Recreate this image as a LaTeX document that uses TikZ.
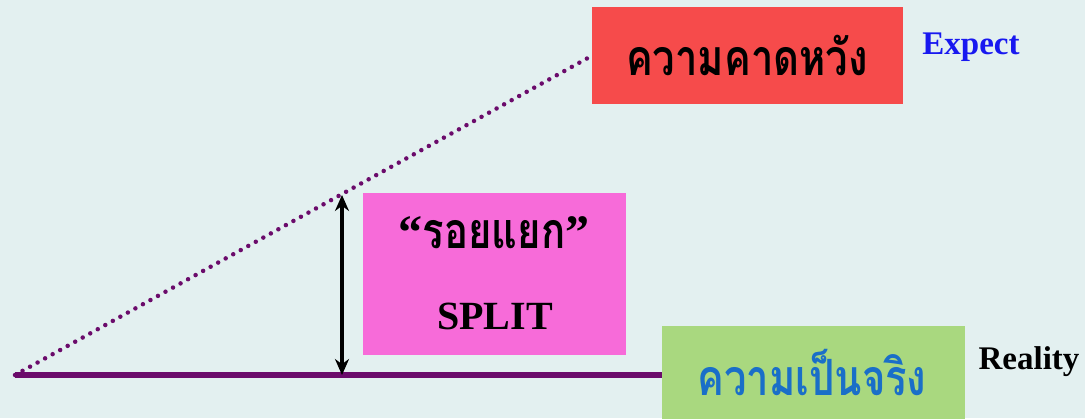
\documentclass[tikz,border=0pt]{standalone}
\usepackage{fontspec}
\setmainfont{Liberation Serif}
\newfontfamily\thaifont[Script=Thai,FakeStretch=0.8]{Loma}
\usetikzlibrary{arrows.meta}
\definecolor{bgcol}{HTML}{E3F0F0}
\definecolor{redbox}{HTML}{F64B4B}
\definecolor{pinkbox}{HTML}{F76BD9}
\definecolor{greenbox}{HTML}{A9D87F}
\definecolor{linecol}{HTML}{6B0B6B}
\definecolor{realtext}{HTML}{1A6FC8}
\definecolor{expblue}{HTML}{1818F0}
\tikzset{
  panel/.style={rectangle, inner sep=0pt, anchor=north west},
  thaititle/.style={inner sep=0pt, font=\thaifont\bfseries\fontsize{50}{54}\selectfont},
  engtag/.style={font=\bfseries\fontsize{33}{36}\selectfont},
}
\begin{document}
\begin{tikzpicture}[x=1pt,y=-1pt]
  \useasboundingbox (0,0) rectangle (1085,418);
  \clip (0,0) rectangle (1085,418);
  \fill[bgcol] (0,0) rectangle (1085,418);

  % coloured panels
  \node[panel, fill=redbox, minimum width=311pt, minimum height=97pt] (expectbox) at (592,7) {};
  \node[panel, fill=pinkbox, minimum width=263pt, minimum height=162pt] (splitbox) at (363,193) {};
  \node[panel, fill=greenbox, minimum width=303pt, minimum height=110pt] (realbox) at (662,326) {};

  % texts in the panels
  \node[thaititle, text=black] (expecttxt) at (747,55) {ความคาดหวัง};
  \node[thaititle, text=black] (splittxt) at (494,233)
    {{\rmfamily\bfseries\fontsize{48}{50}\selectfont “}รอยแยก{\rmfamily\bfseries\fontsize{48}{50}\selectfont ”}};
  \node[font=\bfseries\fontsize{40}{44}\selectfont] (splitword) at (495,316) {SPLIT};
  \node[thaititle, text=realtext] (realtxt) at (812,373) {ความเป็นจริง};

  % side labels
  \node[engtag, text=expblue] (expectlbl) at (971,47) {Expect};
  \node[engtag, text=black] (reallbl) at (1029,362) {Reality};

  % baseline and rising expectation line
  \coordinate (origin) at (15,375);
  \coordinate (lineend) at (662,375);
  \draw[linecol, line width=6pt] (origin) -- (lineend);
  \draw[linecol, line width=4.5pt, line cap=round, dash pattern=on 0pt off 8.6pt] (origin) -- (expectbox.west);

  % gap arrow
  \coordinate (gaptop) at (342,195);
  \coordinate (gapbot) at (342,375);
  \draw[black, line width=3.6pt, {Stealth[length=16pt,width=14pt]}-{Stealth[length=16pt,width=14pt]}] (gaptop) -- (gapbot);
\end{tikzpicture}
\end{document}
